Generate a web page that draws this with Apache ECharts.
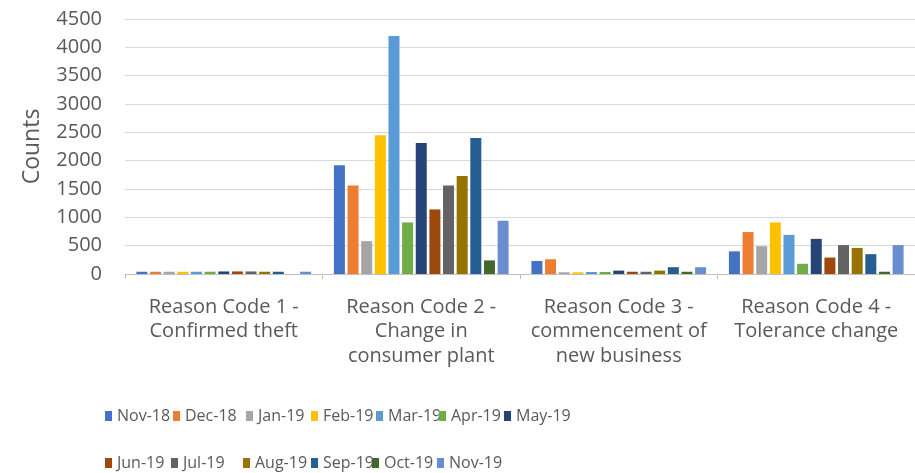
<!DOCTYPE html>
<html>
<head>
<meta charset="utf-8">
<script src="https://cdn.jsdelivr.net/npm/echarts@6/dist/echarts.min.js"></script>
<style>
html,body{margin:0;padding:0;background:#fff;overflow:hidden;}
#chart{width:915px;height:473px;}
</style>
</head>
<body>
<div id="chart"></div>
<script>
const categories = [
  "Reason Code 1 -\nConfirmed theft",
  "Reason Code 2 -\nChange in\nconsumer plant",
  "Reason Code 3 -\ncommencement of\nnew business",
  "Reason Code 4 -\nTolerance change"
];
const seriesNames = ["Nov-18","Dec-18","Jan-19","Feb-19","Mar-19","Apr-19","May-19","Jun-19","Jul-19","Aug-19","Sep-19","Oct-19","Nov-19"];
const nov18 = [40, 1920, 230, 400];
const dec18 = [40, 1560, 260, 740];
const jan19 = [40, 580, 30, 490];
const feb19 = [40, 2450, 30, 910];
const mar19 = [40, 4200, 35, 690];
const apr19 = [40, 910, 35, 180];
const may19 = [45, 2310, 60, 620];
const jun19 = [45, 1140, 40, 290];
const jul19 = [45, 1560, 40, 510];
const aug19 = [40, 1730, 60, 460];
const sep19 = [40, 2400, 120, 350];
const oct19 = [0, 240, 40, 40];
const nov19 = [40, 940, 120, 510];
const seriesValues = [nov18, dec18, jan19, feb19, mar19, apr19, may19, jun19, jul19, aug19, sep19, oct19, nov19];
const yTicks = {min: 0, max: 4500, interval: 500};

const colors = ["#4472C4","#ED7D31","#A5A5A5","#FFC000","#5B9BD5","#70AD47","#264478","#9E480E","#636363","#997300","#255E91","#43682B","#698ED0"];
const font = "'Open Sans', sans-serif";
const textColor = "#595959";

// legend layout (icon left x, row top y)
const legendX = [105,173,246,311,376,439,504, 105,171,243,311,372,437];
const legendY = [408,408,408,408,408,408,408, 455,455,455,455,455,455];

const chart = echarts.init(document.getElementById('chart'), null, {renderer: 'canvas'});
const legends = seriesNames.map((n, i) => ({
  data: [n],
  left: legendX[i], top: legendY[i],
  itemWidth: 7, itemHeight: 10, icon: 'rect', padding: 0,
  textStyle: {color: textColor, fontSize: 16, fontFamily: font}
}));
chart.setOption({
  animation: false,
  color: colors,
  grid: {left: 125, right: -4, top: 19, bottom: 199},
  legend: legends,
  xAxis: {
    type: 'category',
    data: categories,
    axisLine: {lineStyle: {color: '#bfbfbf'}},
    axisTick: {show: true, length: 5, lineStyle: {color: '#bfbfbf'}},
    axisLabel: {color: textColor, fontSize: 20, fontFamily: font, lineHeight: 24.5, margin: 21, interval: 0}
  },
  yAxis: {
    type: 'value',
    min: yTicks.min, max: yTicks.max, interval: yTicks.interval,
    name: 'Counts',
    nameLocation: 'middle',
    nameGap: 81,
    nameRotate: 90,
    nameTextStyle: {color: textColor, fontSize: 23, fontFamily: font},
    axisLine: {show: false},
    axisTick: {show: false},
    splitLine: {lineStyle: {color: '#d9d9d9'}},
    axisLabel: {color: textColor, fontSize: 20, fontFamily: font, margin: 23, formatter: v => String(v)}
  },
  series: seriesNames.map((n, i) => ({
    name: n,
    type: 'bar',
    data: seriesValues[i],
    barWidth: 11,
    barGap: '24%'
  }))
});
</script>
</body>
</html>
